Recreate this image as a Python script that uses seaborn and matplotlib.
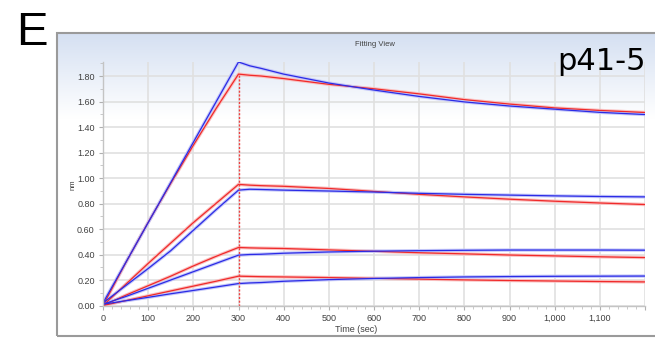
import numpy as np
import pandas as pd
import matplotlib
matplotlib.use('Agg')
import matplotlib.pyplot as plt
from matplotlib.colors import LinearSegmentedColormap
from matplotlib.patches import Rectangle
from matplotlib.ticker import MultipleLocator, FuncFormatter
import seaborn as sns

# time points (sec), association 0-300, dissociation 300-1200
time = [0, 50, 100, 150, 200, 250, 300, 325, 350, 400, 500, 600, 700, 800, 900, 1000, 1100, 1200]

# measured response (blue), nm
data_1 = [0.02, 0.335, 0.65, 0.965, 1.28, 1.595, 1.91, 1.88, 1.86, 1.815, 1.745, 1.69, 1.64, 1.597, 1.565, 1.54, 1.515, 1.498]
data_2 = [0.02, 0.155, 0.29, 0.43, 0.59, 0.75, 0.905, 0.912, 0.91, 0.905, 0.898, 0.89, 0.88, 0.872, 0.866, 0.86, 0.855, 0.852]
data_3 = [0.01, 0.07, 0.135, 0.20, 0.265, 0.33, 0.395, 0.40, 0.402, 0.41, 0.42, 0.426, 0.43, 0.433, 0.435, 0.435, 0.435, 0.434]
data_4 = [0.01, 0.037, 0.064, 0.092, 0.118, 0.145, 0.172, 0.177, 0.18, 0.19, 0.203, 0.212, 0.219, 0.224, 0.227, 0.229, 0.23, 0.231]

# fitted curves (red), nm
fit_1 = [0.0, 0.333, 0.652, 0.958, 1.257, 1.543, 1.815, 1.806, 1.80, 1.78, 1.735, 1.70, 1.66, 1.615, 1.58, 1.55, 1.53, 1.514]
fit_2 = [0.0, 0.165, 0.33, 0.49, 0.65, 0.80, 0.95, 0.944, 0.94, 0.935, 0.918, 0.895, 0.872, 0.852, 0.834, 0.818, 0.804, 0.792]
fit_3 = [0.0, 0.08, 0.155, 0.23, 0.31, 0.385, 0.455, 0.452, 0.45, 0.447, 0.436, 0.425, 0.414, 0.405, 0.396, 0.389, 0.382, 0.376]
fit_4 = [0.0, 0.038, 0.076, 0.114, 0.152, 0.19, 0.23, 0.228, 0.226, 0.224, 0.219, 0.213, 0.207, 0.201, 0.196, 0.192, 0.188, 0.185]

step_time = 300

curves = {'data_1': data_1, 'data_2': data_2, 'data_3': data_3, 'data_4': data_4,
          'fit_1': fit_1, 'fit_2': fit_2, 'fit_3': fit_3, 'fit_4': fit_4}
rows = []
for name, vals in curves.items():
    for t, v in zip(time, vals):
        rows.append({'curve': name, 'kind': name.split('_')[0], 'time': t, 'value': v})
df = pd.DataFrame(rows)

sns.set_style('white')
plt.rcParams['font.family'] = ['Liberation Sans', 'DejaVu Sans']

W, H = 655, 339
fig = plt.figure(figsize=(W / 100, H / 100), dpi=100)

# panel background with light blue gradient at the top
bg = fig.add_axes([57.5 / W, 1 - 336 / H, 1.0, (336 - 33) / H], zorder=0)
grad = np.linspace(0, 1, 256).reshape(-1, 1)
cmap = LinearSegmentedColormap.from_list('g', [(0, '#d5e0f2'), (0.28, '#ffffff'), (1, '#ffffff')])
bg.imshow(grad, aspect='auto', cmap=cmap, extent=[0, 1, 0, 1])
bg.add_patch(Rectangle((0, 0), 1, 1, transform=bg.transAxes, fill=False,
                       edgecolor='#9a9a9a', lw=1.5, clip_on=False))
bg.set_axis_off()

ax = fig.add_axes([103 / W, 1 - 305.5 / H, 542 / W, (305.5 - 62) / H], zorder=1)
ax.set_facecolor('none')

pal = {'data': '#2b2be6', 'fit': '#f02a2a'}
halo = {'data': '#c4c7f8', 'fit': '#f9c0c0'}
order = ['fit', 'data']
sns.lineplot(data=df, x='time', y='value', hue='kind', hue_order=order, units='curve', estimator=None,
             palette=halo, lw=2.4, legend=False, sort=False, ax=ax)
sns.lineplot(data=df, x='time', y='value', hue='kind', hue_order=order, units='curve', estimator=None,
             palette=pal, lw=0.9, legend=False, sort=False, ax=ax)

ax.vlines(step_time, 0, fit_1[time.index(step_time)], colors='#f04040', linestyles=(0, (1.5, 1.2)), lw=1.0)

ax.set_xlim(0, 1200)
ax.set_ylim(0, 1.91)
ax.xaxis.set_major_locator(MultipleLocator(100))
ax.xaxis.set_minor_locator(MultipleLocator(20))
ax.yaxis.set_major_locator(MultipleLocator(0.2))
ax.yaxis.set_minor_locator(MultipleLocator(0.1))
ax.xaxis.set_major_formatter(FuncFormatter(lambda v, p: f'{int(v):,}' if v < 1200 else ''))
ax.yaxis.set_major_formatter(FuncFormatter(lambda v, p: f'{v:.2f}'))

ax.grid(True, which='major', color='#e0e0e0', lw=1.2)
ax.set_axisbelow(True)
for s in ['top', 'right']:
    ax.spines[s].set_visible(False)
for s in ['left', 'bottom']:
    ax.spines[s].set_color('#c4c4c4')
    ax.spines[s].set_linewidth(1.0)
ax.tick_params(which='major', length=3, width=0.8, color='#b0b0b0', labelsize=6.5,
               labelcolor='#404040', pad=3, direction='out', bottom=True, left=True)
ax.tick_params(which='minor', length=2, width=0.6, color='#c0c0c0', direction='out',
               bottom=True, left=True)

ax.set_xlabel('Time (sec)', fontsize=6.5, color='#404040')
ax.xaxis.set_label_coords((356 - 103) / 542, (305.5 - 329) / 243.5)
ax.xaxis.label.set_va('center')
ax.set_ylabel('nm', fontsize=5.5, color='#404040')
ax.yaxis.set_label_coords((73 - 103) / 542, (305.5 - 185) / 243.5)
ax.yaxis.label.set_va('center')

fig.text(375 / W, 1 - 45 / H, 'Fitting View', fontsize=5.5, color='#404040', ha='center', va='center')
fig.text(646 / W, 1 - 69.5 / H, 'p41-5', fontsize=22, family='DejaVu Sans', color='black',
         ha='right', va='baseline', zorder=5)
fig.text(16 / W, 1 - 45 / H, 'E', fontsize=34, color='black', ha='left', va='baseline')

fig.savefig('out.png', dpi=100)
